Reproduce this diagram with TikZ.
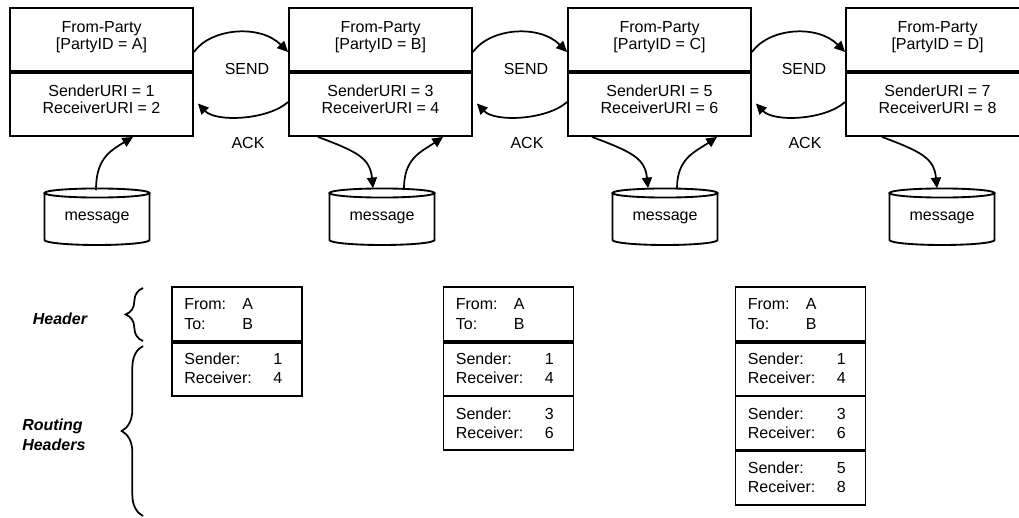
\documentclass[tikz,border=0pt]{standalone}
\usepackage{fontspec}
\setmainfont{Liberation Sans}
\usetikzlibrary{calc,arrows.meta,decorations.pathreplacing}
\newcommand\drawcyl[1]{%
  \draw[cylline] ($(#1)+(0,25)$) ellipse[x radius=39.375pt, y radius=3.4pt];
  \draw[cylline] ($(#1)+(-52.5,25)$) -- ($(#1)+(-52.5,-22)$)
     arc[start angle=180,end angle=360,x radius=39.375pt,y radius=3.75pt]
     -- ($(#1)+(52.5,25)$);}
\tikzset{
  partytop/.style={draw, line width=1.4pt, minimum width=137.25pt, minimum height=47.25pt, inner sep=0pt},
  partybot/.style={draw, line width=1.4pt, minimum width=137.25pt, minimum height=48.75pt, inner sep=0pt},
  ptext/.style={align=center, inner sep=0pt, font=\fontsize{12pt}{12.75pt}\selectfont},
  lbl/.style={inner sep=0pt, font=\fontsize{12pt}{14pt}\selectfont},
  msg/.style={minimum width=78.75pt, minimum height=41.25pt, inner sep=0pt, font=\fontsize{12pt}{14pt}\selectfont},
  cylline/.style={line width=1.4pt},
  arr/.style={line width=1.3pt, -{Triangle[length=8pt,width=7.5pt]}},
  divider/.style={line width=2.6pt},
  sec/.style={draw, line width=1.4pt, minimum width=97.5pt, inner sep=0pt},
  sech/.style={sec, minimum height=40.5pt},
  secr/.style={sec, minimum height=41.25pt},
  stext/.style={anchor=west, inner sep=0pt, align=left, font=\fontsize{12pt}{14.5pt}\selectfont},
  bracestyle/.style={line width=1.3pt, decorate},
  side/.style={inner sep=0pt, align=left, font=\fontsize{12pt}{15pt}\selectfont\bfseries\itshape},
}
\begin{document}
\begin{tikzpicture}[x=0.75pt,y=0.75pt]
\useasboundingbox (0,0) rectangle (1019,-517);
% party boxes
\foreach \n/\cx in {A/101.5,B/380.5,C/659.5,D/937.5}{
  \node[partytop] (P\n t) at (\cx,-39.5) {};
  \node[partybot] (P\n b) at (\cx,-103.5) {};
  \draw[divider] (P\n t.south west) -- (P\n t.south east);
}
\node[ptext] (PAtx) at (101.5,-37.5) {From-Party\\{[}PartyID = A{]}};
\node[ptext] (PBtx) at (380.5,-37.5) {From-Party\\{[}PartyID = B{]}};
\node[ptext] (PCtx) at (659.5,-37.5) {From-Party\\{[}PartyID = C{]}};
\node[ptext] (PDtx) at (937.5,-37.5) {From-Party\\{[}PartyID = D{]}};
\node[ptext] (PAbx) at (101.5,-99.5) {SenderURI = 1\\ReceiverURI = 2};
\node[ptext] (PBbx) at (380.5,-99.5) {SenderURI = 3\\ReceiverURI = 4};
\node[ptext] (PCbx) at (659.5,-99.5) {SenderURI = 5\\ReceiverURI = 6};
\node[ptext] (PDbx) at (937.5,-99.5) {SenderURI = 7\\ReceiverURI = 8};
% SEND / ACK labels
\node[lbl] (s1) at (247,-69) {SEND};
\node[lbl] (s2) at (526,-69) {SEND};
\node[lbl] (s3) at (804,-69) {SEND};
\node[lbl] (a1) at (248,-143) {ACK};
\node[lbl] (a2) at (527,-143) {ACK};
\node[lbl] (a3) at (805,-143) {ACK};
% SEND / ACK arrows
\foreach \l/\r in {A/B,B/C,C/D}{
  \draw[arr] ($(P\l t.east)+(0,-12.5)$) .. controls +(17,24) and +(-28,28) .. ($(P\r t.west)+(0,-12.5)$);
  \draw[arr] ($(P\r b.west)+(0,1.5)$) .. controls +(-20,-18) and +(18,-19) .. ($(P\l b.east)+(4,0)$);
}
% messages
\node[msg] (mA) at (97,-218) {message};
\node[msg] (mB) at (382,-218) {message};
\node[msg] (mC) at (665,-218) {message};
\node[msg] (mD) at (942,-218) {message};
\drawcyl{mA}\drawcyl{mB}\drawcyl{mC}\drawcyl{mD}
% message arrows
\draw[arr] ($(mA.north)+(-1,0)$) .. controls +(0,30) and +(-25,-15) .. ($(PAb.south)+(31.5,0)$);
\draw[arr] ($(PBb.south)+(-62.5,0)$) .. controls +(40,-15) and +(-3,30) .. ($(mB.north)+(-9,2)$);
\draw[arr] ($(mB.north)+(22,2)$) .. controls +(0,30) and +(-22,-15) .. ($(PBb.south)+(62.5,0)$);
\draw[arr] ($(PCb.south)+(-67.5,0)$) .. controls +(40,-15) and +(-3,30) .. ($(mC.north)+(-17,2)$);
\draw[arr] ($(mC.north)+(12,2)$) .. controls +(0,30) and +(-22,-15) .. ($(PCb.south)+(57.5,0)$);
\draw[arr] ($(PDb.south)+(-55.5,0)$) .. controls +(40,-15) and +(-3,30) .. ($(mD.north)+(-5,2)$);
% lower boxes
\node[sech] (H1) at (237,-314) {};
\node[secr] (R1a) at (237,-368.5) {};
\node[sech] (H2) at (508.5,-314) {};
\node[secr] (R2a) at (508.5,-368.5) {};
\node[sech] (R2b) at (508.5,-423) {};
\node[sech] (H3) at (800.5,-314) {};
\node[secr] (R3a) at (800.5,-368.5) {};
\node[sech] (R3b) at (800.5,-423) {};
\node[secr] (R3c) at (800.5,-477.5) {};
\draw[divider] (H1.south west) -- (H1.south east);
\draw[divider] (H2.south west) -- (H2.south east);
\draw[divider] (H3.south west) -- (H3.south east);
\draw[line width=2pt] (R3b.south west) -- (R3b.south east);
\foreach \h in {H1,H2,H3}{
  \node[stext] at ($(\h.west)+(13,0)$) {\makebox[43.5pt][l]{From:}A\\\makebox[43.5pt][l]{To:}B};
}
\node[stext] (t1a) at ($(R1a.west)+(13,0)$) {\parbox{73.5pt}{Sender:\hfill 1\\Receiver:\hfill 4}};
\node[stext] (t2a) at ($(R2a.west)+(13,0)$) {\parbox{73.5pt}{Sender:\hfill 1\\Receiver:\hfill 4}};
\node[stext] (t2b) at ($(R2b.west)+(13,0)$) {\parbox{73.5pt}{Sender:\hfill 3\\Receiver:\hfill 6}};
\node[stext] (t3a) at ($(R3a.west)+(13,0)$) {\parbox{73.5pt}{Sender:\hfill 1\\Receiver:\hfill 4}};
\node[stext] (t3b) at ($(R3b.west)+(13,0)$) {\parbox{73.5pt}{Sender:\hfill 3\\Receiver:\hfill 6}};
\node[stext] (t3c) at ($(R3c.west)+(13,0)$) {\parbox{73.5pt}{Sender:\hfill 5\\Receiver:\hfill 8}};
% braces and side labels
\draw[bracestyle, decoration={brace, amplitude=13pt}] (143,-341) -- (143,-288);
\draw[bracestyle, decoration={brace, amplitude=16pt}] (143,-516) -- (143,-346);
\node[side] (hdr) at (60,-319) {Header};
\node[side, anchor=west] (rh) at (22,-435) {Routing\\Headers};
\end{tikzpicture}
\end{document}
